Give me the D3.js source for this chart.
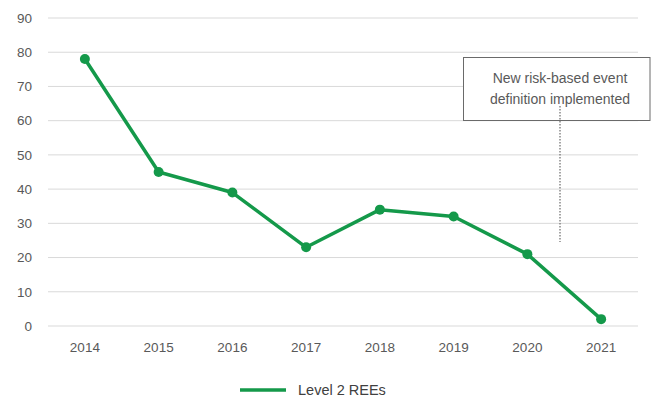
<!DOCTYPE html>
<html>
<head>
<meta charset="utf-8">
<script src="https://cdn.jsdelivr.net/npm/d3@7"></script>
<style>
  html, body { margin: 0; padding: 0; background: #fff; }
  svg text { font-family: "Liberation Sans", Arial, sans-serif; }
</style>
</head>
<body>
<svg id="chart" width="652" height="401"></svg>
<script>
// Level 2 REEs per year
const years = ["2014", "2015", "2016", "2017", "2018", "2019", "2020", "2021"];
const values = [78, 45, 39, 23, 34, 32, 21, 2];
const yTicks = [0, 10, 20, 30, 40, 50, 60, 70, 80, 90];
const seriesName = "Level 2 REEs";
const noteLines = ["New risk-based event", "definition implemented"];

const svg = d3.select("#chart");
const green = "#14994a";
const textColor = "#595959";

const x = d3.scaleBand().domain(years).range([48, 638]);
const y = d3.scaleLinear().domain([0, 90]).range([326, 18]);

// gridlines
svg.append("g")
  .selectAll("line")
  .data(yTicks)
  .join("line")
  .attr("x1", 48).attr("x2", 638)
  .attr("y1", d => y(d)).attr("y2", d => y(d))
  .attr("stroke", "#d9d9d9").attr("stroke-width", 1);

// y axis labels
const yAxis = d3.axisLeft(y).tickValues(yTicks).tickSize(0).tickPadding(0);
const gy = svg.append("g").attr("transform", "translate(32,0)").call(yAxis);
gy.select(".domain").remove();
gy.selectAll("text").attr("fill", textColor).style("font-size", "13.5px");

// x axis labels
const xAxis = d3.axisBottom(x).tickSize(0).tickPadding(0);
const gx = svg.append("g").attr("transform", "translate(0,342)").call(xAxis);
gx.select(".domain").remove();
gx.selectAll("text").attr("fill", textColor).style("font-size", "13.5px");

// annotation box
const boxX = 463.5, boxY = 57.5, boxW = 186.5, boxH = 63;
svg.append("rect")
  .attr("x", boxX).attr("y", boxY).attr("width", boxW).attr("height", boxH)
  .attr("fill", "#fff").attr("stroke", "#6a6a6a").attr("stroke-width", 1);
svg.append("g")
  .selectAll("text")
  .data(noteLines)
  .join("text")
  .attr("x", 560)
  .attr("y", (d, i) => 83 + i * 21)
  .attr("text-anchor", "middle")
  .attr("fill", textColor)
  .style("font-size", "14px")
  .text(d => d);

// dotted leader line
svg.append("line")
  .attr("x1", 560).attr("x2", 560)
  .attr("y1", 106).attr("y2", 242)
  .attr("stroke", "#6a6a6a").attr("stroke-width", 1.2)
  .attr("stroke-dasharray", "1.5,1.5");

// series line
const cx = d => x(d) + x.bandwidth() / 2;
const line = d3.line().x((d, i) => cx(years[i])).y(d => y(d));
svg.append("path")
  .datum(values)
  .attr("d", line)
  .attr("fill", "none")
  .attr("stroke", green)
  .attr("stroke-width", 3.5)
  .attr("stroke-linejoin", "round");

svg.append("g")
  .selectAll("circle")
  .data(values)
  .join("circle")
  .attr("cx", (d, i) => cx(years[i]))
  .attr("cy", d => y(d))
  .attr("r", 5)
  .attr("fill", green);

// legend
svg.append("line")
  .attr("x1", 240).attr("x2", 286)
  .attr("y1", 390).attr("y2", 390)
  .attr("stroke", green).attr("stroke-width", 3.5);
svg.append("text")
  .attr("x", 298).attr("y", 395)
  .attr("fill", "#404040")
  .style("font-size", "14.5px")
  .text(seriesName);
</script>
</body>
</html>
